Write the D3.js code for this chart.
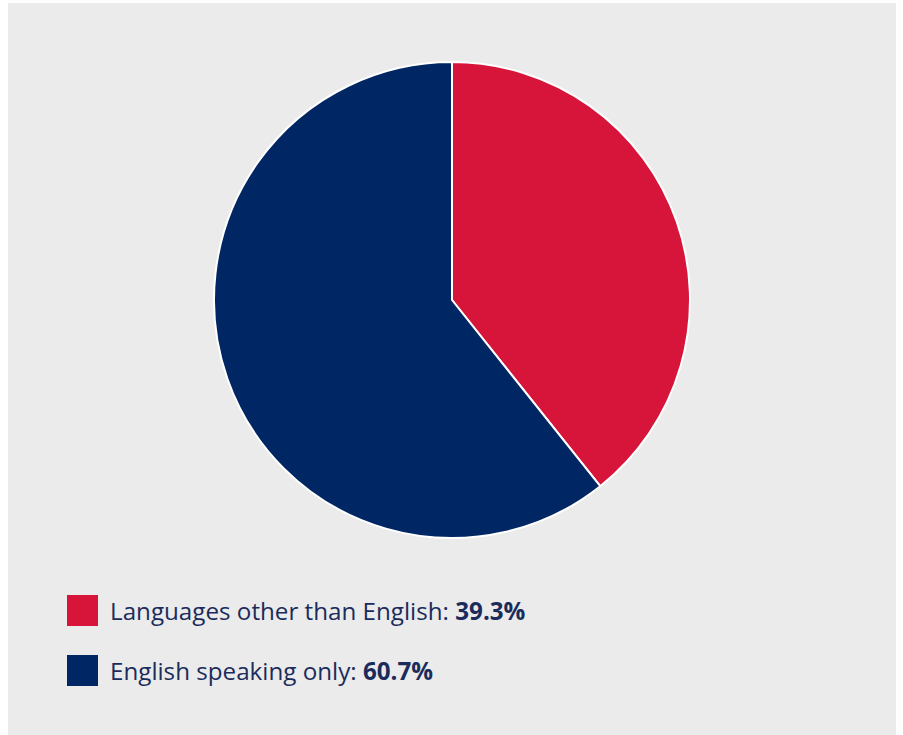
<!DOCTYPE html>
<html>
<head>
<meta charset="utf-8">
<script src="https://cdn.jsdelivr.net/npm/d3@7"></script>
<style>
  body { margin: 0; background: #ffffff; }
  svg { display: block; }
</style>
</head>
<body>
<div id="chart"></div>
<script>
// data
const labels = ["Languages other than English", "English speaking only"];
const values = [39.3, 60.7];
const colors = ["#d7153a", "#002664"];

const width = 903, height = 735;

const svg = d3.select("#chart")
    .append("svg")
    .attr("width", width)
    .attr("height", height);

// grey panel
svg.append("rect")
    .attr("x", 8)
    .attr("y", 3)
    .attr("width", 888)
    .attr("height", 732)
    .attr("fill", "#ebebeb");

const pie = d3.pie().sort(null).value(d => d);
const arc = d3.arc().innerRadius(0).outerRadius(238);

const g = svg.append("g")
    .attr("transform", "translate(452,300)");

g.selectAll("path")
    .data(pie(values))
    .join("path")
    .attr("d", arc)
    .attr("fill", (d, i) => colors[i])
    .attr("stroke", "#ffffff")
    .attr("stroke-width", 2)
    .attr("stroke-linejoin", "round");

// legend
const legend = svg.append("g")
    .attr("transform", "translate(67,595)");

labels.forEach((label, i) => {
    const item = legend.append("g")
        .attr("transform", `translate(0, ${i * 60})`);

    item.append("rect")
        .attr("width", 31)
        .attr("height", 31)
        .attr("fill", colors[i]);

    const t = item.append("text")
        .attr("x", 43)
        .attr("y", 25)
        .style("font-family", "'Open Sans', Roboto, sans-serif")
        .style("font-size", "24.2px")
        .style("fill", "#1b2c5c");
    t.append("tspan").text(label + ": ");
    t.append("tspan").style("font-weight", "bold").text(values[i].toFixed(1) + "%");
});
</script>
</body>
</html>
